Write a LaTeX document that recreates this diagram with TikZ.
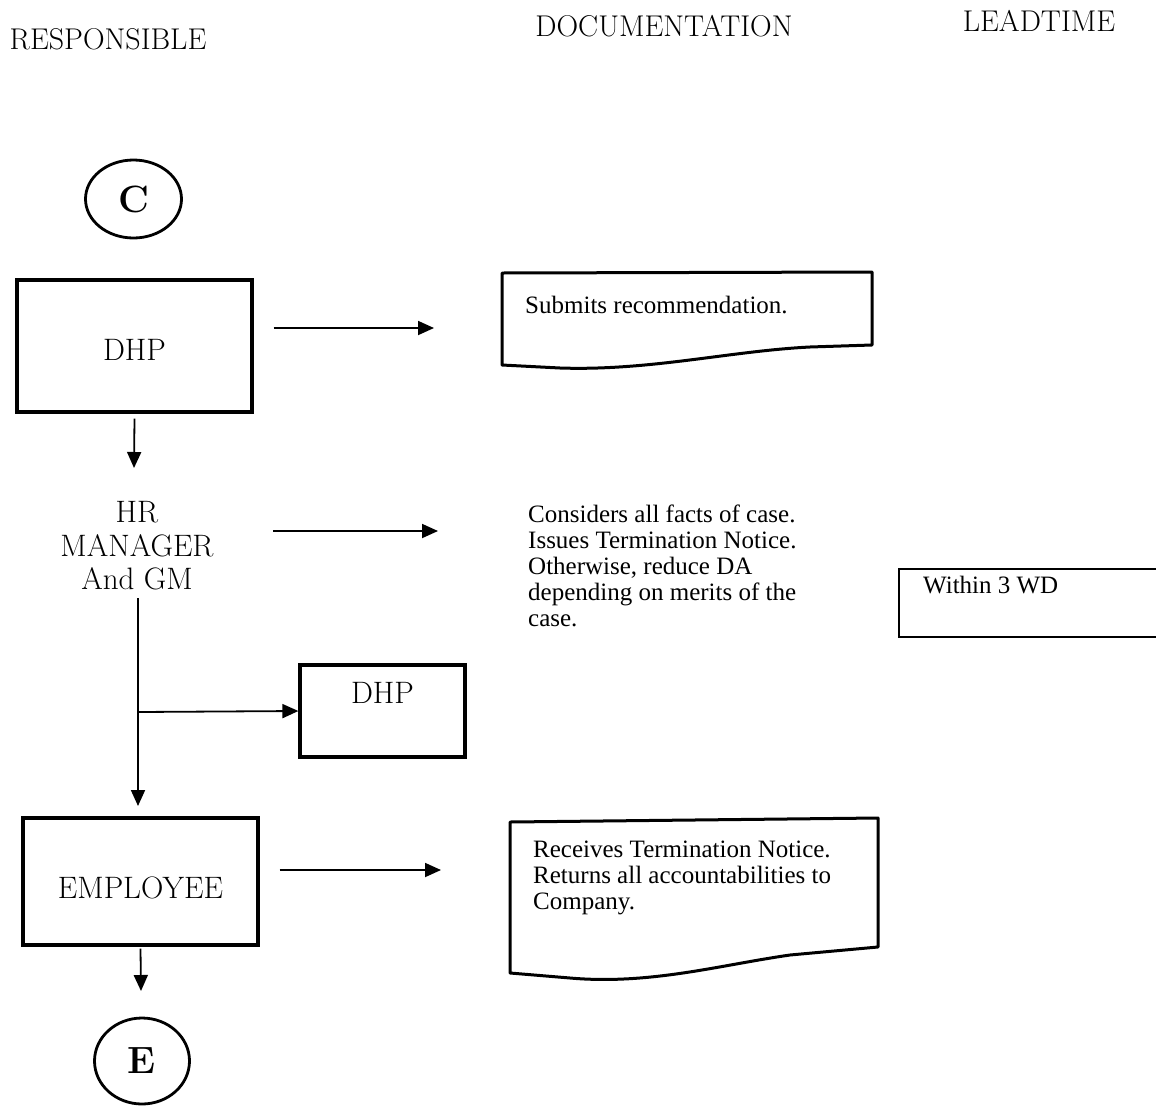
\documentclass[tikz,border=0pt]{standalone}
\usepackage{fontspec}
\newfontfamily\timesf{Liberation Serif}
\usetikzlibrary{arrows.meta,shapes.geometric}
\begin{document}
\begin{tikzpicture}[x=1pt,y=-1pt,
  hdr/.style={font=\fontsize{30}{36}\selectfont, inner sep=0, anchor=base},
  pbox/.style={draw, line width=3.2pt, inner sep=0, font=\fontsize{31}{36}\selectfont},
  conn/.style={draw, line width=2.8pt, ellipse, inner sep=0, font=\bfseries\fontsize{38}{44}\selectfont},
  doctext/.style={font=\timesf\fontsize{25}{26}\selectfont, inner sep=0, align=left},
  docline/.style={line width=3pt, line join=round},
  arr/.style={line width=1.8pt, -{Triangle[length=16pt,width=14pt]}}
]
\useasboundingbox (0,0) rectangle (1156,1106);

% headers
\node[hdr] (h1) at (108,49) {RESPONSIBLE};
\node[hdr] (h2) at (664,36) {DOCUMENTATION};
\node[hdr] (h3) at (1039,31) {LEADTIME};

% connectors circles
\node[conn, minimum width=96pt, minimum height=78pt] (c) at (133.5,199) {C};
\node[conn, minimum width=95pt, minimum height=86pt] (e) at (142,1061) {E};

% responsible boxes
\node[pbox, minimum width=235pt, minimum height=132pt, text height=29pt, text depth=0pt] (dhp1) at (134.5,346) {DHP};
\node[inner sep=0, align=center, font=\fontsize{31}{33.5}\selectfont] (hr) at (137,546) {HR\\MANAGER\\And GM};
\node[pbox, minimum width=165pt, minimum height=92pt, text height=21pt, text depth=37pt] (dhp2) at (382.5,711) {DHP};
\node[pbox, minimum width=235pt, minimum height=127pt, text height=33pt, text depth=0pt] (emp) at (140.5,881.5) {EMPLOYEE};

% documentation
\node[doctext, anchor=base west] (doc1) at (525,313) {Submits recommendation.};
\draw[docline] (502,365) -- (502,273) -- (872,272) -- (872,345) -- (810,347)
  .. controls (730,351) and (650,371) .. (560,368) -- cycle;

\node[doctext, anchor=north west] (doc2) at (528,505) {Considers all facts of case.\\Issues Termination Notice.\\Otherwise, reduce DA\\depending on merits of the\\case.};

\node[doctext, anchor=north west] (doc3) at (533,841) {Receives Termination Notice.\\Returns all accountabilities to\\Company.};
\draw[docline] (510,973) -- (510,822) -- (878,818) -- (878,947) -- (790,955)
  .. controls (720,965) and (650,985) .. (570,978) -- cycle;

% lead time
\node[doctext, anchor=base west] (lt) at (923,593) {Within 3 WD};
\draw[line width=1.6pt] (1156,569) -- (899,569) -- (899,637) -- (1156,637);

% arrows
\coordinate (a1e) at (434,328);
\coordinate (a2e) at (438,531);
\coordinate (a3e) at (441,870);
\draw[arr] (dhp1.east |- a1e) ++(20,0) -- (a1e);
\draw[arr] (273,531) -- (a2e);
\draw[arr] (emp.east |- a3e) ++(20,0) -- (a3e);

\coordinate (d1e) at (134,468);
\draw[arr] (dhp1.south) ++(0,5) -- (d1e);

\coordinate (hrs) at (138,598);
\coordinate (br) at (138,712);
\coordinate (d2e) at (138,806);
\draw[arr] (hrs) -- (d2e);
\draw[arr] (br) -- (dhp2.west);

\coordinate (d3e) at (141,991);
\draw[arr] (emp.south) ++(0,2) -- (d3e);
\end{tikzpicture}
\end{document}
